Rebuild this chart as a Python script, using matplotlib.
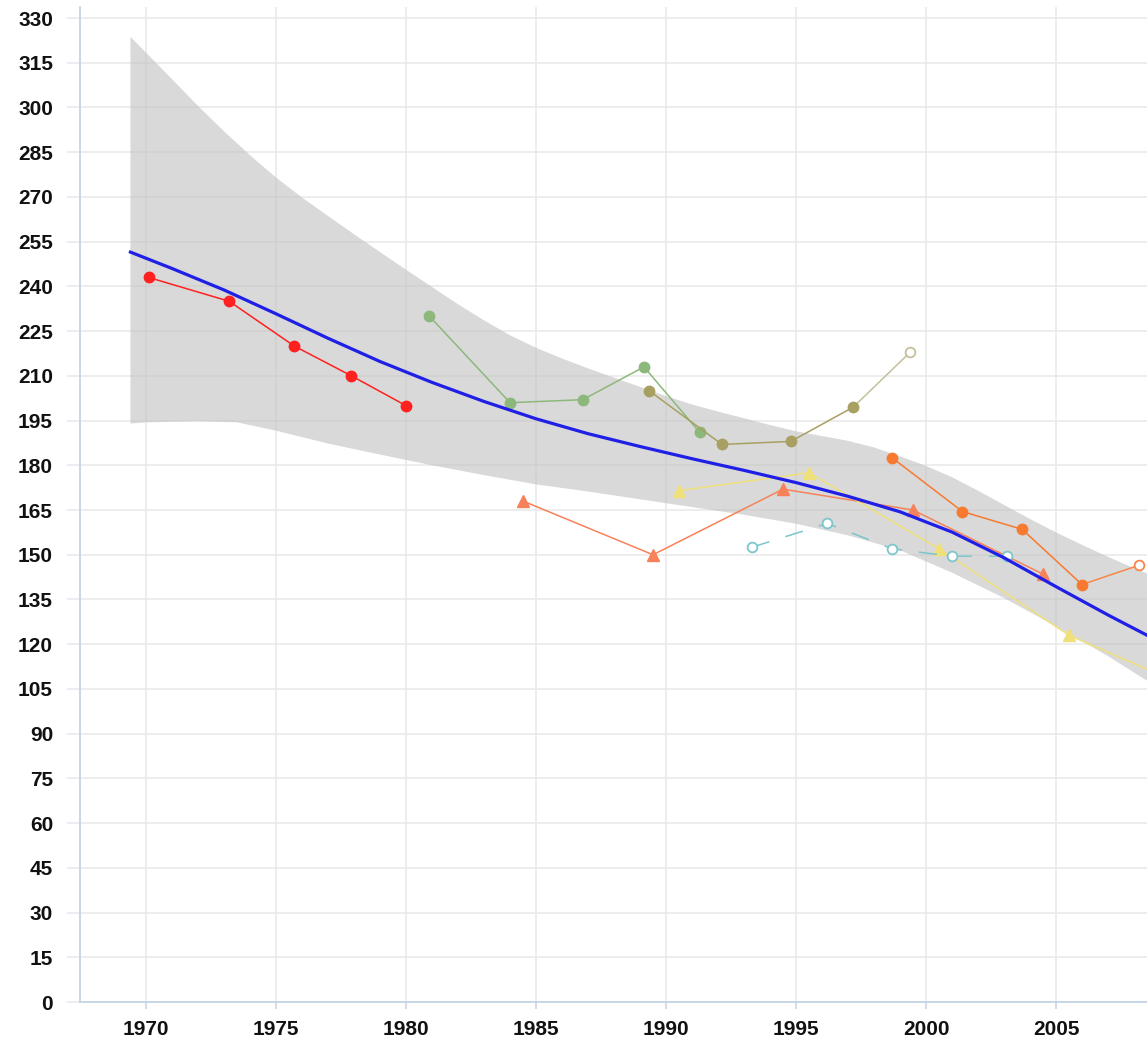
import matplotlib
matplotlib.use("Agg")
import matplotlib.pyplot as plt

# trend line and its band
trend_years = [1969.4, 1971, 1973, 1975, 1977, 1979, 1981, 1983, 1985, 1987, 1989, 1991,
               1993, 1995, 1997, 1999, 2001, 2003, 2005, 2007, 2008.5]
trend = [251.5, 246, 238.8, 230.8, 222.6, 214.8, 207.8, 201.4, 195.6, 190.6, 186.3, 182.2,
         178.3, 174.2, 169.6, 164.4, 157.6, 149, 139.3, 129.8, 123]

upper_years = [1969.4, 1971, 1972, 1973, 1974, 1975, 1976, 1977, 1978, 1979, 1980, 1981, 1982,
               1983, 1984, 1985, 1986, 1987, 1988, 1989, 1990, 1991, 1992, 1993, 1994, 1995,
               1996, 1997, 1998, 1999, 2000, 2001, 2002, 2003, 2004, 2005, 2006, 2007, 2008, 2009]
band_upper = [323.7, 309.5, 300.5, 292, 284, 276.5, 269.8, 263.6, 257.5, 251.5, 245.6, 239.8, 234,
              228.6, 223.6, 219.4, 215.8, 212.5, 209.4, 206.3, 203.2, 200.4, 198, 195.8, 193.5, 191.4,
              189.8, 188.2, 186, 183, 179.8, 176, 171.5, 166.7, 162, 157.5, 153.3, 149.3, 145.5, 142]

lower_years = [1969.4, 1970, 1972, 1973.5, 1975, 1977, 1979, 1981, 1983, 1985, 1987, 1989, 1991,
               1993, 1995, 1997, 1999, 2001, 2003, 2005, 2007, 2009]
band_lower = [194, 194.4, 194.8, 194.4, 191.6, 187.3, 183.6, 180, 176.7, 173.6, 171.2, 168.6, 166,
              163.4, 160.4, 156.5, 151.5, 144, 135.5, 126, 116, 105]

# series
red_years = [1970.1, 1973.2, 1975.7, 1977.9, 1980.0]
red = [243, 235, 220, 210, 200]

green_years = [1980.9, 1984.0, 1986.8, 1989.15, 1991.3]
green = [230, 201, 202, 213, 191]

olive_years = [1989.35, 1992.15, 1994.8, 1997.2]
olive = [205, 187, 188, 199.5]
olive_proj_years = [1997.2, 1999.4]
olive_proj = [199.5, 218]

coral_years = [1984.5, 1989.5, 1994.5, 1999.5, 2004.5]
coral = [168, 150, 172, 165, 143.5]

yellow_years = [1990.5, 1995.5, 2000.5, 2005.5, 2010.5]
yellow = [171.5, 177.5, 152, 123, 104]

orange_years = [1998.7, 2001.4, 2003.7, 2006.0]
orange = [182.5, 164.5, 158.5, 140]
orange_proj_years = [2006.0, 2008.2]
orange_proj = [140, 146.5]

teal_years = [1993.3, 1996.2, 1998.7, 2001.0, 2003.1]
teal = [152.5, 160.5, 152, 149.5, 149.5]

xticks = [1970, 1975, 1980, 1985, 1990, 1995, 2000, 2005]
yticks = list(range(0, 331, 15))

plt.rcParams['font.family'] = ['Liberation Sans', 'DejaVu Sans']

fig = plt.figure(figsize=(11.47, 10.46), dpi=100)
ax = fig.add_axes([80 / 1147, 1 - 1002 / 1046, 1 - 80 / 1147, 995 / 1046])

ax.set_axisbelow(True)
ax.grid(True, color='#e8e8e8', linewidth=1.1)

# band: one closed polygon from the two edges
poly_x = upper_years + lower_years[::-1]
poly_y = band_upper + band_lower[::-1]
ax.fill(poly_x, poly_y, color='#c0c0c0', alpha=0.6, linewidth=0, zorder=1)
ax.plot(trend_years, trend, color='#1f1fe6', linewidth=2.3, zorder=5)

lw = 1.1
ms = 7.5
ax.plot(red_years, red, color='#ff2020', marker='o', markersize=ms, linewidth=lw, zorder=4)
ax.plot(green_years, green, color='#8db87c', marker='o', markersize=ms, linewidth=lw, zorder=4)
ax.plot(olive_proj_years, olive_proj, color='#c4c09a', linewidth=lw, zorder=3)
ax.plot(olive_proj_years[-1:], olive_proj[-1:], linestyle='none', marker='o', markersize=ms - 0.5,
        markerfacecolor='white', markeredgecolor='#c4c09a', markeredgewidth=1.3, zorder=4)
ax.plot(olive_years, olive, color='#a8a062', marker='o', markersize=ms, linewidth=lw, zorder=4)
ax.plot(coral_years, coral, color='#f7825a', marker='^', markersize=ms + 1, linewidth=lw, zorder=4)
ax.plot(yellow_years, yellow, color='#efe07a', marker='^', markersize=ms + 1, linewidth=lw, zorder=4)
ax.plot(orange_proj_years, orange_proj, color='#f7864a', linewidth=lw, zorder=3)
ax.plot(orange_proj_years[-1:], orange_proj[-1:], linestyle='none', marker='o', markersize=ms - 0.5,
        markerfacecolor='white', markeredgecolor='#f7864a', markeredgewidth=1.3, zorder=4)
ax.plot(orange_years, orange, color='#f77a30', marker='o', markersize=ms, linewidth=lw, zorder=4)
ax.plot(teal_years, teal, color='#7cc6cc', linestyle=(0, (12, 11)), marker='o', markersize=ms - 0.5,
        markerfacecolor='white', markeredgecolor='#7cc6cc', markeredgewidth=1.3, linewidth=lw, zorder=4)

ax.set_xlim(1967.46, 2008.5)
ax.set_ylim(0, 333.7)
ax.set_xticks(xticks)
ax.set_yticks(yticks)

for side in ['top', 'right']:
    ax.spines[side].set_visible(False)
for side in ['left', 'bottom']:
    ax.spines[side].set_color('#c4d4e4')
    ax.spines[side].set_linewidth(1.3)

ax.tick_params(axis='y', length=9.4, width=1.1, color='#e4e8ee', pad=10, labelsize=15)
ax.tick_params(axis='x', length=5, width=1.1, color='#c4d4e4', pad=8, labelsize=15)
for lab in ax.get_xticklabels() + ax.get_yticklabels():
    lab.set_fontweight('bold')
    lab.set_color('#111111')

fig.savefig('out.png', dpi=100)
